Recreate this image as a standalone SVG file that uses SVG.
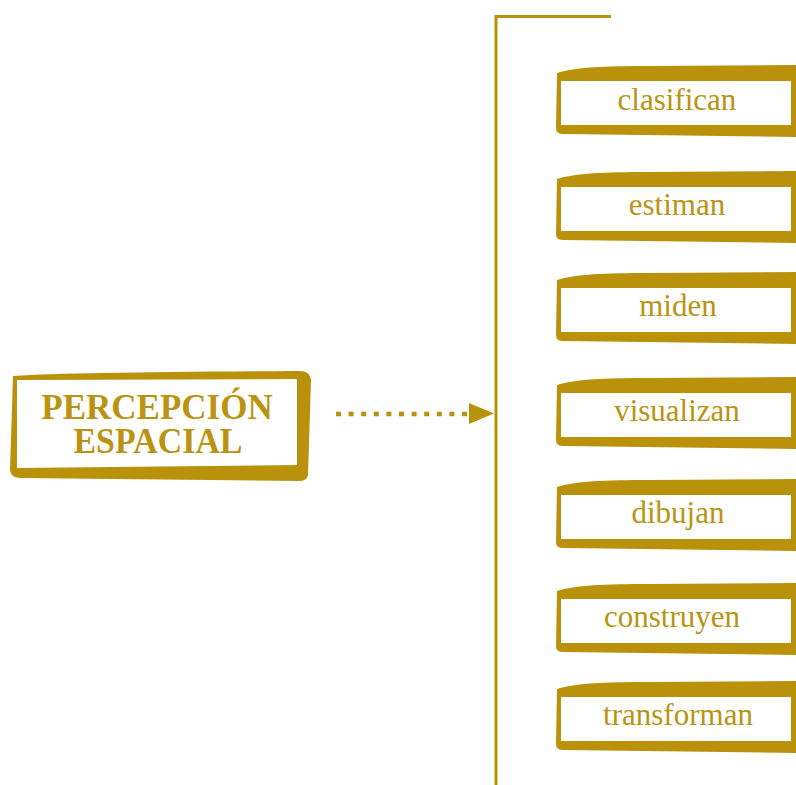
<svg xmlns="http://www.w3.org/2000/svg" width="796" height="785" viewBox="0 0 796 785">
<style>
.frame{fill:#BA910A}
.inner{fill:#FFFFFF}
.lbl{font-family:"Liberation Serif","Times New Roman",serif;font-size:31px;fill:#BB9312;text-anchor:middle}
.title{font-family:"Liberation Serif","Times New Roman",serif;font-size:35px;font-weight:bold;fill:#BB9312;text-anchor:middle}
.line{stroke:#BA910A;stroke-width:3;fill:none}
.dots{stroke:#BA910A;stroke-width:4.5;stroke-dasharray:5 7.6;fill:none}
</style>
<defs>
<g id="box">
<path class="frame" d="M557,0 C575,-6 605,-7 650,-7 L800,-8 L800,64 L563,61 Q556,61 556,55 Z"/>
<rect class="inner" x="561" y="8" width="230" height="44"/>
</g>
</defs>
<g id="connectors">
<path class="line" d="M611,16.5 L496,16.5 L496,785"/>
<path class="dots" d="M336,414 L468,414"/>
<path d="M469,403 L494,413.5 L469,424 Z" fill="#BA910A"/>
</g>
<g id="node-percepcion">
<path class="frame" d="M13,376 C60,373 150,372 300,371 Q310,371 311,380 L308,475 Q307,481 299,481 L20,478 Q10,477 10,470 Z"/>
<polygon class="inner" points="17,380 297,379 297,465 17,468"/>
<text class="title" x="157" y="419">PERCEPCIÓN</text>
<text class="title" x="158" y="453" textLength="169" lengthAdjust="spacingAndGlyphs">ESPACIAL</text>
</g>
<g id="node-clasifican"><use href="#box" y="73"/><text class="lbl" x="677" y="110">clasifican</text></g>
<g id="node-estiman"><use href="#box" y="179"/><text class="lbl" x="677" y="215">estiman</text></g>
<g id="node-miden"><use href="#box" y="280"/><text class="lbl" x="678" y="316">miden</text></g>
<g id="node-visualizan"><use href="#box" y="385"/><text class="lbl" x="677" y="421">visualizan</text></g>
<g id="node-dibujan"><use href="#box" y="487"/><text class="lbl" x="678" y="523">dibujan</text></g>
<g id="node-construyen"><use href="#box" y="591"/><text class="lbl" x="672" y="627">construyen</text></g>
<g id="node-transforman"><use href="#box" y="689"/><text class="lbl" x="678" y="725">transforman</text></g>
</svg>
